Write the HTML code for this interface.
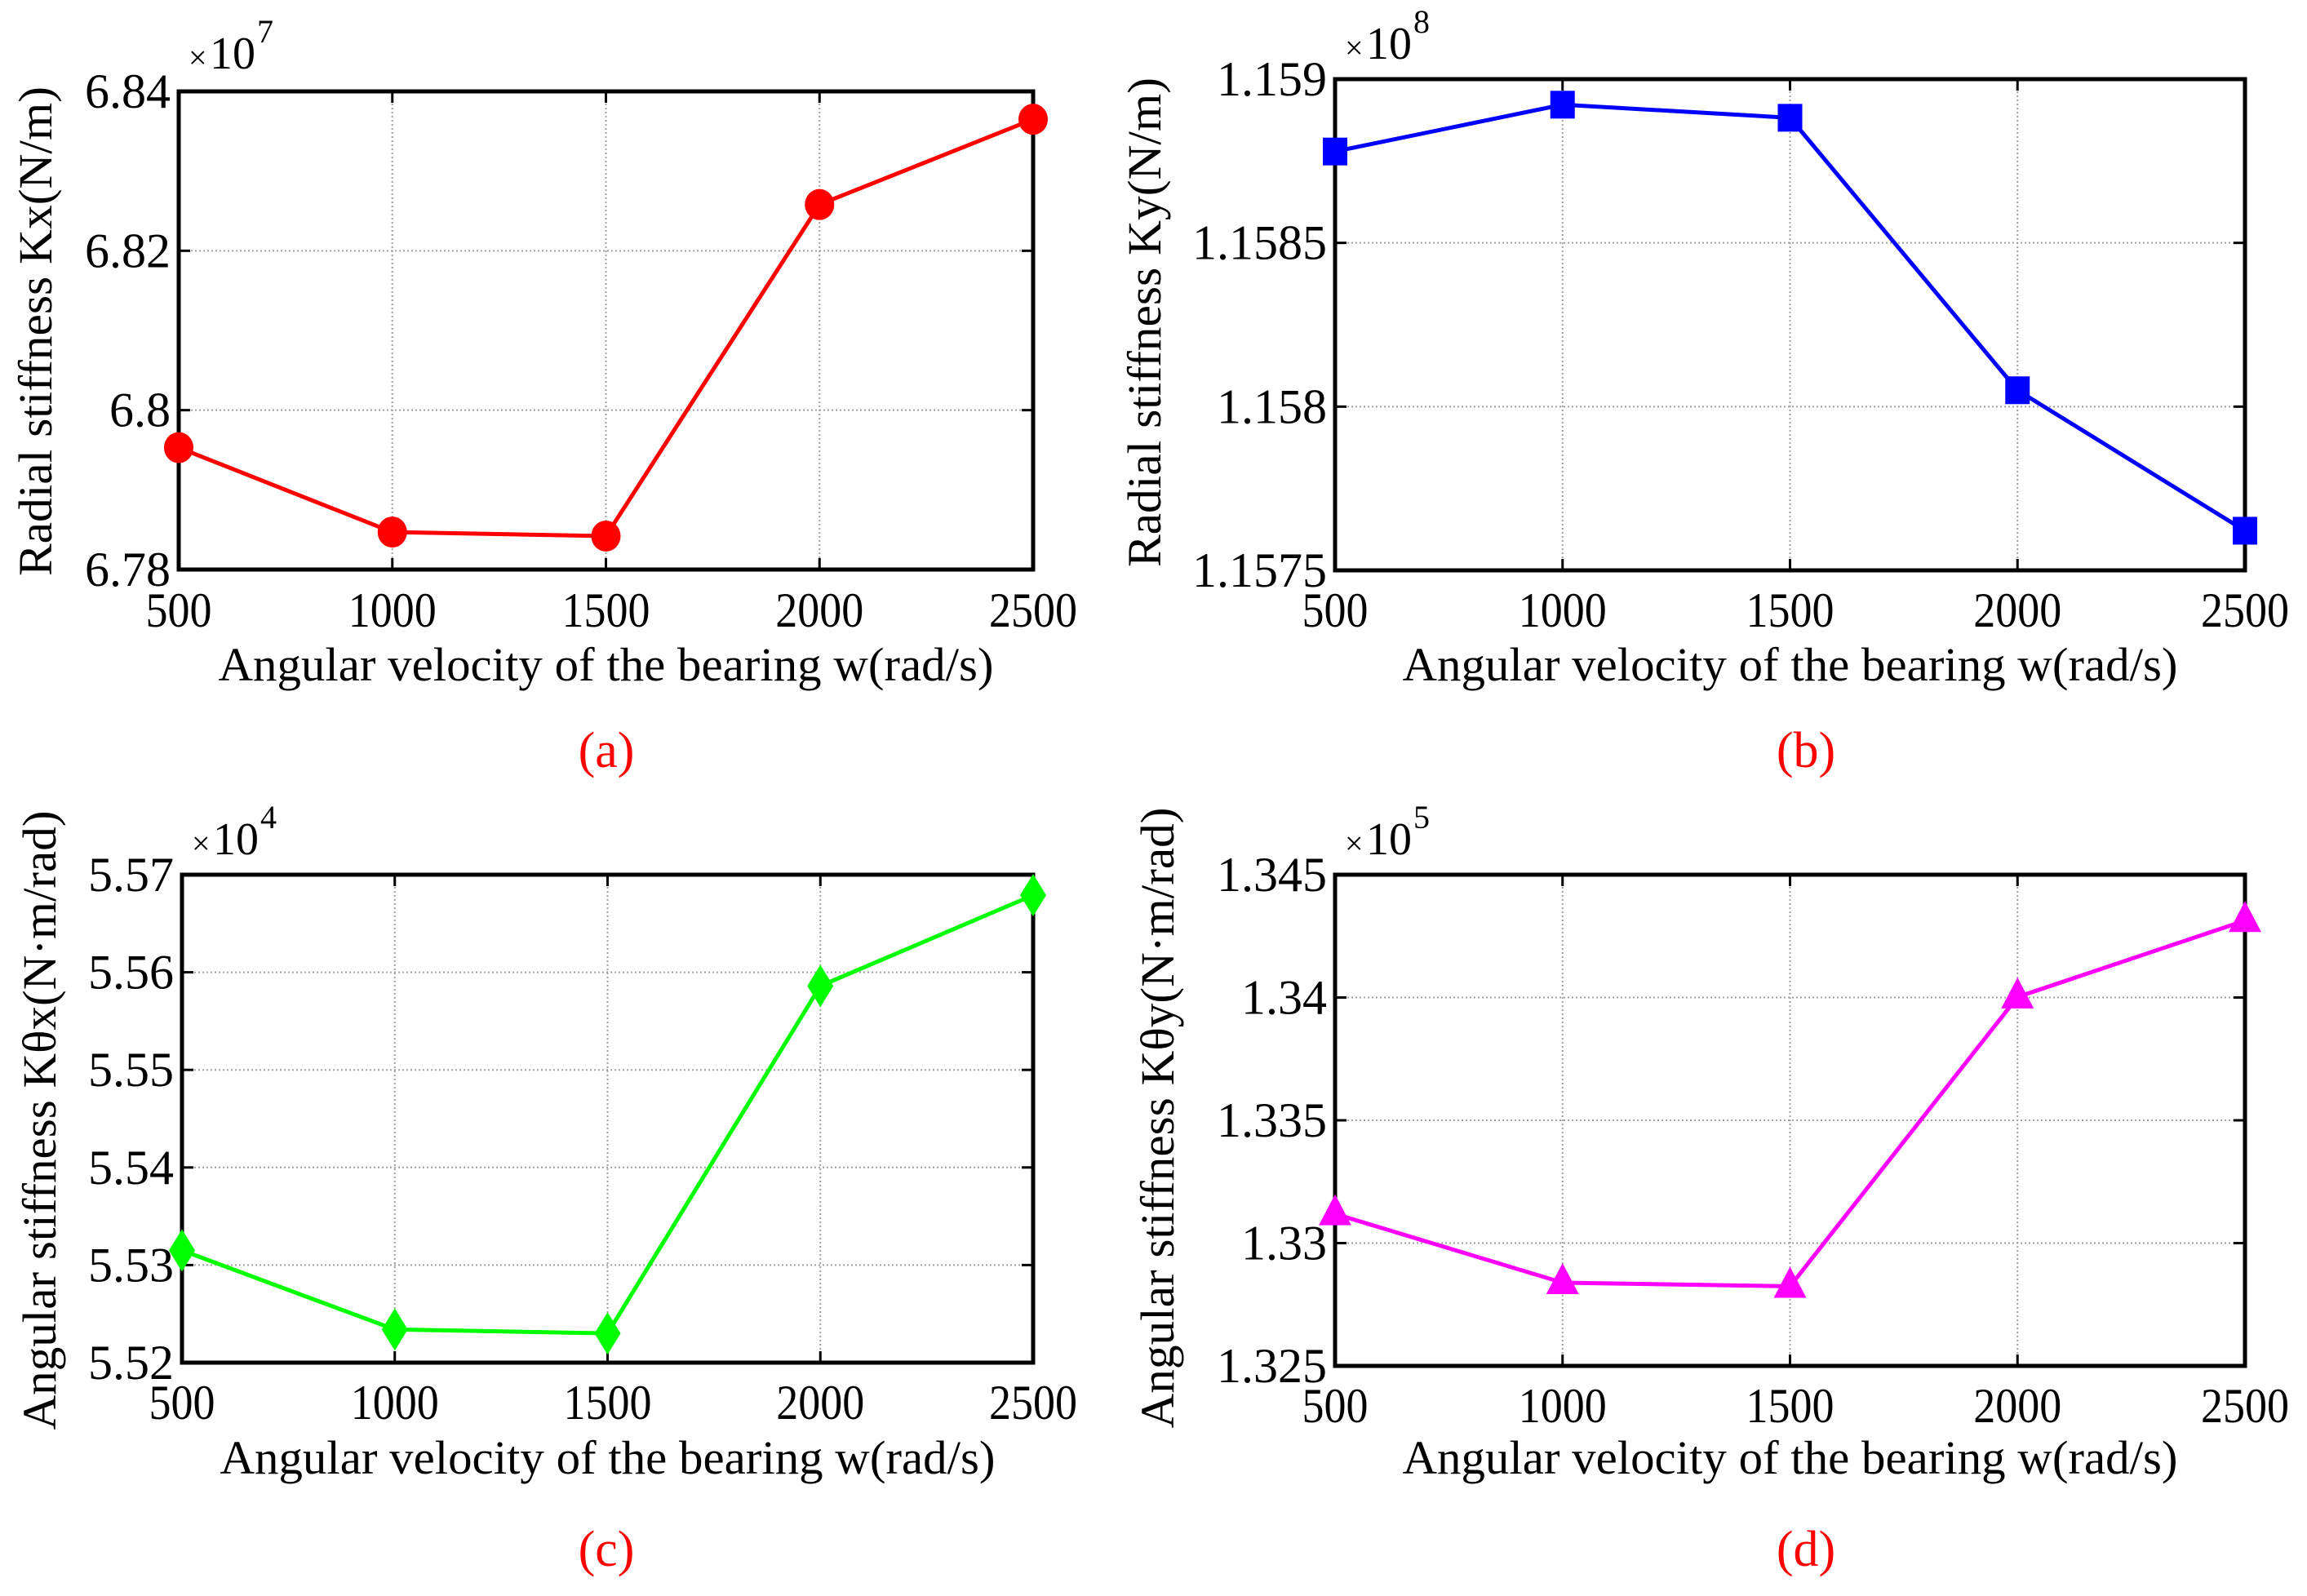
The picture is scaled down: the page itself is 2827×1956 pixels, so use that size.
<!DOCTYPE html>
<html><head><meta charset="utf-8"><style>
body{margin:0;background:#fff}
svg text{font-family:"Liberation Serif",serif;fill:#000}
</style></head><body>
<svg id="fig" width="2827" height="1951" viewBox="0 0 2827 1951" xmlns="http://www.w3.org/2000/svg"></svg>
<script>
const speeds = [500, 1000, 1500, 2000, 2500];
const xTicks = [500, 1000, 1500, 2000, 2500];
const kxValues = [6.7953, 6.7847, 6.7842, 6.8258, 6.8365];
const kxTicks = ["6.78", "6.8", "6.82", "6.84"];
const kyValues = [1.158779, 1.158922, 1.158882, 1.15805, 1.157621];
const kyTicks = ["1.1575", "1.158", "1.1585", "1.159"];
const ktxValues = [5.5315, 5.5234, 5.5230, 5.5586, 5.5679];
const ktxTicks = ["5.52", "5.53", "5.54", "5.55", "5.56", "5.57"];
const ktyValues = [1.33119, 1.32839, 1.32824, 1.34002, 1.34313];
const ktyTicks = ["1.325", "1.33", "1.335", "1.34", "1.345"];

const NS = "http://www.w3.org/2000/svg";
const svg = document.getElementById("fig");
function mk(tag, attrs, parent) {
  const e = document.createElementNS(NS, tag);
  for (const k in attrs) e.setAttribute(k, attrs[k]);
  (parent || svg).appendChild(e);
  return e;
}

const panels = [
  {id:"a", L:219, R:1266, T:112, B:698, vals:kxValues, ticks:kxTicks, color:"#ff0000", marker:"circle", exp:"7",
   ylabel:"Radial stiffness Kx(N/m)", ylx:45, ylc:406, yll:600, tickY:768, titleY:834, capY:940, capX:743, expY:84},
  {id:"b", L:1636, R:2751, T:97, B:699, vals:kyValues, ticks:kyTicks, color:"#0000ff", marker:"square", exp:"8",
   ylabel:"Radial stiffness Ky(N/m)", ylx:1404, ylc:395, yll:600, tickY:768, titleY:834, capY:940, capX:2213, expY:72},
  {id:"c", L:223, R:1266, T:1072, B:1670, vals:ktxValues, ticks:ktxTicks, color:"#00ff00", marker:"diamond", exp:"4",
   ylabel:"Angular stiffness K\u03b8x(N\u00b7m/rad)", ylx:50, ylc:1373, yll:759, tickY:1739, titleY:1806, capY:1919, capX:743, expY:1047},
  {id:"d", L:1636, R:2751, T:1072, B:1674, vals:ktyValues, ticks:ktyTicks, color:"#ff00ff", marker:"triangle", exp:"5",
   ylabel:"Angular stiffness K\u03b8y(N\u00b7m/rad)", ylx:1420, ylc:1370, yll:761, tickY:1743, titleY:1806, capY:1919, capX:2213, expY:1047}
];

panels.forEach(p => {
  const g = mk("g", {});
  
  
  const ymin = parseFloat(p.ticks[0]), ymax = parseFloat(p.ticks[p.ticks.length-1]);
  const xs = v => p.L + (v - xTicks[0]) / (xTicks[xTicks.length-1] - xTicks[0]) * (p.R - p.L);
  const ys = v => p.B - (v - ymin) / (ymax - ymin) * (p.B - p.T);
  xTicks.forEach(t => {
    const x = xs(t);
    const gl = mk("line", {x1:x, x2:x, y1:p.T, y2:p.B, stroke:"#a0a0a0", "stroke-width":2, "stroke-dasharray":"2,3"}, g);
    
    
    mk("line", {x1:x, x2:x, y1:p.B, y2:p.B-14, stroke:"#000", "stroke-width":3}, g);
    mk("line", {x1:x, x2:x, y1:p.T, y2:p.T+14, stroke:"#000", "stroke-width":3}, g);
    const tl = mk("text", {x:x, y:p.tickY, "font-size":60, "text-anchor":"middle", textLength:String(t).length*27, lengthAdjust:"spacingAndGlyphs"}, g);
    tl.textContent = t;
    
    
  });
  p.ticks.forEach(t => {
    const y = ys(parseFloat(t));
    const gl = mk("line", {x1:p.L, x2:p.R, y1:y, y2:y, stroke:"#a0a0a0", "stroke-width":2, "stroke-dasharray":"2,3"}, g);
    
    
    mk("line", {x1:p.L, x2:p.L+14, y1:y, y2:y, stroke:"#000", "stroke-width":3}, g);
    mk("line", {x1:p.R, x2:p.R-14, y1:y, y2:y, stroke:"#000", "stroke-width":3}, g);
    const tl = mk("text", {x:p.L-10, y:y+20, "font-size":60, "text-anchor":"end"}, g);
    tl.textContent = t;
    
    
  });
  const box = mk("rect", {x:p.L, y:p.T, width:p.R-p.L, height:p.B-p.T, fill:"none", stroke:"#000", "stroke-width":5}, g);
  
  
  const pts = speeds.map((s,i) => xs(s) + "," + ys(p.vals[i])).join(" ");
  const ln = mk("polyline", {points:pts, fill:"none", stroke:p.color, "stroke-width":5}, g);
  
  
  speeds.forEach((s,i) => {
    const x = xs(s), y = ys(p.vals[i]);
    let m;
    if (p.marker === "circle") m = mk("ellipse", {cx:x, cy:y, rx:18, ry:19, fill:p.color}, g);
    else if (p.marker === "square") m = mk("rect", {x:x-15, y:y-17, width:30, height:34, fill:p.color}, g);
    else if (p.marker === "diamond") m = mk("polygon", {points:`${x},${y-26} ${x+16},${y} ${x},${y+26} ${x-16},${y}`, fill:p.color}, g);
    else m = mk("polygon", {points:`${x},${y-24} ${x+20},${y+14} ${x-20},${y+14}`, fill:p.color}, g);
    
    
  });
  const ex = mk("text", {x:p.L+12, y:p.expY, "font-size":40}, g);
  ex.textContent = "\u00d7";
  
  
  const e10 = mk("text", {x:p.L+38, y:p.expY, "font-size":56}, g);
  e10.textContent = "10";
  
  
  const ep = mk("text", {x:p.L+96, y:p.expY-32, "font-size":40}, g);
  ep.textContent = p.exp;
  
  
  const xt = mk("text", {x:(p.L+p.R)/2, y:p.titleY, "font-size":58, "text-anchor":"middle", textLength:950, lengthAdjust:"spacingAndGlyphs"}, g);
  xt.textContent = "Angular velocity of the bearing w(rad/s)";
  
  
  const yt = mk("text", {x:0, y:0, "font-size":58, "text-anchor":"middle", textLength:p.yll, lengthAdjust:"spacingAndGlyphs",
    transform:`translate(${p.ylx+18},${p.ylc}) rotate(-90)`}, g);
  yt.textContent = p.ylabel;
  
  
  const cap = mk("text", {x:p.capX, y:p.capY, "font-size":62, "text-anchor":"middle", style:"fill:#ff0000"}, g);
  cap.textContent = "(" + p.id + ")";
  
  
});
</script>
</body></html>
